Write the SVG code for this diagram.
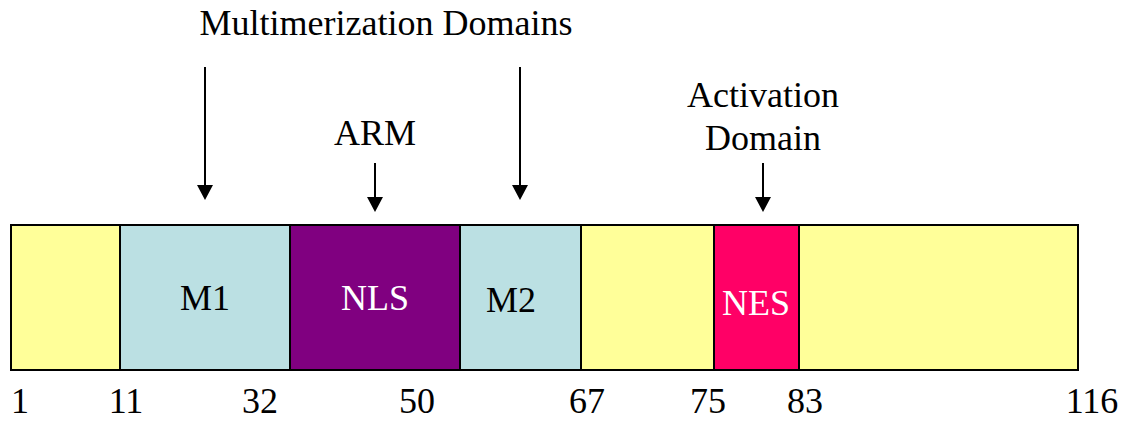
<svg xmlns="http://www.w3.org/2000/svg" width="1125" height="422" viewBox="0 0 1125 422">
<style>
text{font-family:"Liberation Serif","Times New Roman",serif;font-size:36px;fill:#000}
.w{fill:#fff}
.seg{stroke:#000;stroke-width:2}
.arr{stroke:#000;stroke-width:2;fill:none}
</style>
<rect width="1125" height="422" fill="#fff"/>
<g id="seg-1-11"><rect class="seg" x="11" y="225" width="109" height="145" fill="#FFFF99"/></g>
<g id="seg-M1"><rect class="seg" x="120" y="225" width="170" height="145" fill="#BBE0E3"/><text x="205" y="310" text-anchor="middle">M1</text></g>
<g id="seg-NLS"><rect class="seg" x="290" y="225" width="170" height="145" fill="#800080"/><text class="w" x="375" y="310" text-anchor="middle">NLS</text></g>
<g id="seg-M2"><rect class="seg" x="460" y="225" width="121" height="145" fill="#BBE0E3"/><text x="511" y="312" text-anchor="middle">M2</text></g>
<g id="seg-67-75"><rect class="seg" x="581" y="225" width="133" height="145" fill="#FFFF99"/></g>
<g id="seg-NES"><rect class="seg" x="714" y="225" width="85" height="145" fill="#FF0066"/><text class="w" x="756" y="315" text-anchor="middle">NES</text></g>
<g id="seg-83-116"><rect class="seg" x="799" y="225" width="279" height="145" fill="#FFFF99"/></g>
<g id="labels">
<text x="386" y="35" text-anchor="middle">Multimerization Domains</text>
<text x="375" y="145" text-anchor="middle">ARM</text>
<text x="763" y="107" text-anchor="middle">Activation</text>
<text x="763" y="150" text-anchor="middle">Domain</text>
</g>
<g id="ticks">
<text x="20" y="413" text-anchor="middle">1</text>
<text x="126" y="413" text-anchor="middle">11</text>
<text x="260" y="413" text-anchor="middle">32</text>
<text x="417" y="413" text-anchor="middle">50</text>
<text x="587" y="413" text-anchor="middle">67</text>
<text x="708" y="413" text-anchor="middle">75</text>
<text x="805" y="413" text-anchor="middle">83</text>
<text x="1092" y="413" text-anchor="middle">116</text>
</g>
<g id="connectors">
<line class="arr" x1="205" y1="67" x2="205" y2="186"/>
<path d="M197,185 L213,185 L205,200 Z"/>
<line class="arr" x1="375" y1="163" x2="375" y2="198"/>
<path d="M367,197 L383,197 L375,212 Z"/>
<line class="arr" x1="520" y1="67" x2="520" y2="186"/>
<path d="M512,185 L528,185 L520,200 Z"/>
<line class="arr" x1="763" y1="163" x2="763" y2="198"/>
<path d="M755,197 L771,197 L763,212 Z"/>
</g>
</svg>
